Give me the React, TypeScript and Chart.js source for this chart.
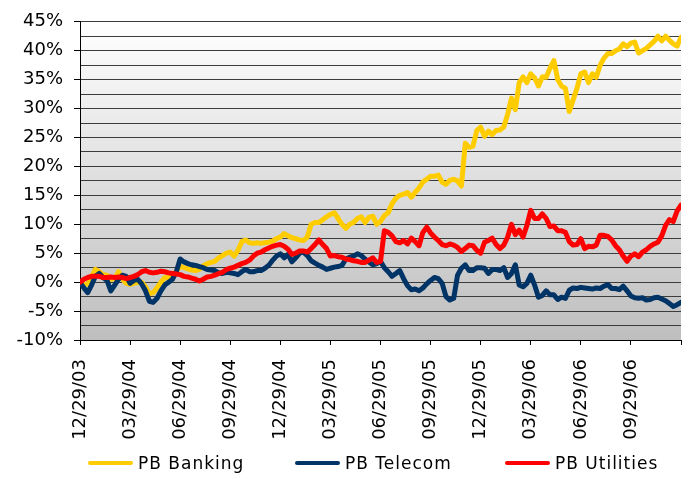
import React, { useEffect, useRef } from "react";
import { Chart, registerables } from "chart.js";

Chart.register(...registerables);

// Weekly index 0..156 from 12/29/03 to 12/29/06, cumulative return in %
const QUARTER_LABELS = [
  "12/29/03", "03/29/04", "06/29/04", "09/29/04", "12/29/04", "03/29/05",
  "06/29/05", "09/29/05", "12/29/05", "03/29/06", "06/29/06", "09/29/06",
];

const SERIES_NAMES = ["PB Banking", "PB Telecom", "PB Utilities"];

const BANKING = [
  0, -0.5, -0.3, 1.0, 2.2, 1.8, 1.3, 1.2, 0.5, 0.6,
  1.8, 0.5, -0.2, -0.4, -0.2, 0.0, 0.0, -0.8, -2.0, -1.8,
  -1.0, 0.0, 0.8, 0.7, 1.2, 1.8, 2.8, 2.5, 2.3, 2.1,
  2.0, 2.2, 2.8, 3.2, 3.4, 3.6, 4.2, 4.6, 5.0, 5.2,
  4.5, 5.5, 7.0, 7.3, 6.8, 6.7, 6.8, 6.7, 6.8, 6.9,
  7.1, 7.5, 7.8, 8.4, 8.0, 7.7, 7.5, 7.3, 7.2, 7.8,
  10.0, 10.3, 10.3, 10.8, 11.3, 11.7, 12.0, 11.0, 10.0, 9.3,
  10.0, 10.3, 11.0, 11.3, 10.3, 11.2, 11.4, 10.0, 10.5, 11.5,
  12.0, 13.6, 14.5, 15.0, 15.2, 15.5, 14.7, 15.5, 16.3, 17.3,
  17.8, 18.3, 18.3, 18.5, 17.3, 16.9, 17.6, 17.8, 17.5, 16.6,
  24.0, 23.3, 23.5, 26.2, 26.8, 25.2, 26.1, 25.5, 26.2, 26.3,
  26.8, 29.0, 31.8, 29.8, 34.5, 35.5, 34.5, 36.0, 35.3, 33.9,
  35.5, 35.4, 37.0, 38.3, 35.0, 33.9, 33.5, 29.5, 31.5, 33.5,
  36.0, 36.3, 34.5, 36.0, 35.4, 37.5, 38.7, 39.5, 39.5, 40.0,
  40.3, 41.2, 40.7, 41.3, 41.5, 39.6, 40.0, 40.4, 41.0, 41.6,
  42.5, 41.7, 42.5, 41.8, 41.2, 40.8, 42.3,
];

const TELECOM = [
  0, -1.0, -1.8, -0.5, 1.0, 1.5, 0.8, 0.3, -1.5, -0.5,
  0.5, 1.2, 1.0, -0.2, 0.3, 0.5, -0.3, -1.5, -3.3, -3.5,
  -2.8, -1.5, -0.5, 0.0, 0.5, 1.8, 4.0, 3.5, 3.2, 3.0,
  2.9, 2.7, 2.5, 2.2, 2.1, 2.0, 1.6, 1.5, 1.7, 1.6,
  1.5, 1.3, 1.8, 2.2, 1.8, 1.8, 2.0, 2.0, 2.4, 2.9,
  3.8, 4.5, 4.9, 4.2, 4.8, 3.5, 4.2, 5.0, 5.2, 4.6,
  3.7, 3.3, 2.9, 2.6, 2.2, 2.4, 2.6, 2.7, 2.9, 4.0,
  4.3, 4.5, 4.9, 4.6, 4.0, 3.5, 3.0, 3.2, 3.6, 2.5,
  1.8, 1.0, 1.5, 2.0, 0.6, -0.6, -1.3, -1.2, -1.5, -1.0,
  -0.3, 0.3, 0.8, 0.6, -0.2, -2.5, -3.1, -2.8, 1.2, 2.4,
  3.0, 2.0, 2.0, 2.5, 2.5, 2.4, 1.5, 2.2, 2.2, 2.0,
  2.5, 0.8, 1.5, 3.0, -0.5, -0.8, -0.2, 1.2, -0.5, -2.6,
  -2.3, -1.5, -2.2, -2.2, -3.0, -2.6, -2.8, -1.4, -1.0, -1.1,
  -0.9, -1.0, -1.1, -1.2, -1.0, -1.1, -0.7, -0.4, -1.1, -1.1,
  -1.3, -0.7, -1.5, -2.4, -2.7, -2.8, -2.7, -3.1, -3.0, -2.7,
  -2.6, -2.9, -3.2, -3.7, -4.2, -3.9, -3.5,
];

const UTILITIES = [
  0, 0.5, 0.8, 1.0, 1.0, 1.0, 0.8, 0.8, 0.9, 0.8,
  0.9, 0.8, 0.6, 0.8, 1.0, 1.3, 1.8, 2.0, 1.7, 1.6,
  1.7, 1.9, 1.8, 1.6, 1.5, 1.4, 1.3, 1.0, 0.9, 0.7,
  0.5, 0.2, 0.5, 0.9, 1.0, 1.2, 1.5, 1.7, 2.2, 2.4,
  2.6, 2.9, 3.2, 3.4, 3.8, 4.5, 5.0, 5.2, 5.6, 5.9,
  6.2, 6.4, 6.5, 6.2, 5.7, 4.8, 5.0, 5.4, 5.4, 5.2,
  5.8, 6.5, 7.3, 6.5, 5.8, 4.5, 4.6, 4.4, 4.3, 4.0,
  3.9, 3.7, 3.6, 3.4, 3.4, 3.8, 4.2, 3.4, 3.6, 8.9,
  8.6, 8.0, 7.0, 6.8, 7.2, 6.6, 7.6, 7.0, 6.3, 8.6,
  9.5, 8.5, 7.8, 7.2, 6.5, 6.3, 6.6, 6.4, 6.0, 5.3,
  5.8, 6.4, 6.3, 5.5, 5.0, 6.9, 7.2, 7.6, 6.5, 5.8,
  6.4, 7.8, 10.0, 8.2, 9.0, 7.8, 9.8, 12.4, 11.0, 11.0,
  11.8, 11.0, 9.6, 9.7, 8.9, 8.9, 8.6, 7.0, 6.4, 6.5,
  7.5, 5.8, 6.2, 6.1, 6.4, 8.1, 8.1, 7.9, 7.3, 6.3,
  5.6, 4.5, 3.6, 4.5, 4.9, 4.4, 5.2, 5.6, 6.2, 6.6,
  6.9, 8.0, 9.8, 10.8, 10.5, 12.3, 13.3,
];

const COLORS = ["#FFCC00", "#003366", "#FF0000"];
const FONT = "'DejaVu Sans', Verdana, sans-serif";

const bgPlugin = {
  id: "plotBg",
  beforeDraw(chart: any) {
    const { ctx, chartArea } = chart;
    if (!chartArea) return;
    const g = ctx.createLinearGradient(0, chartArea.top, 0, chartArea.bottom);
    g.addColorStop(0, "#ffffff");
    g.addColorStop(1, "#bebebe");
    ctx.save();
    ctx.fillStyle = g;
    ctx.fillRect(chartArea.left, chartArea.top, chartArea.right - chartArea.left, chartArea.bottom - chartArea.top);
    ctx.restore();
  },
};

const isMajor = (v: number) => Math.abs(v / 5 - Math.round(v / 5)) < 1e-6;

export default function App() {
  const canvasRef = useRef<HTMLCanvasElement | null>(null);

  useEffect(() => {
    if (!canvasRef.current) return;
    const toPts = (arr: number[]) => arr.map((y, i) => ({ x: i, y }));
    const seriesData = [BANKING, TELECOM, UTILITIES];
    const chart = new Chart(canvasRef.current, {
      type: "line",
      data: {
        datasets: seriesData.map((arr, k) => ({
          label: SERIES_NAMES[k],
          data: toPts(arr),
          borderColor: COLORS[k],
          backgroundColor: COLORS[k],
          borderWidth: 5,
          pointRadius: 0,
          tension: 0,
          borderJoinStyle: "round" as const,
          borderCapStyle: "round" as const,
          order: 2 - k,
        })),
      },
      options: {
        animation: false,
        responsive: false,
        devicePixelRatio: 1,
        layout: { padding: { top: 10, right: 0, left: 0, bottom: 0 } },
        plugins: { legend: { display: false }, tooltip: { enabled: false } },
        scales: {
          x: {
            type: "linear",
            min: 0,
            max: 156,
            afterFit: (s: any) => { s.height = 139; s.paddingRight = 10; },
            grid: { drawOnChartArea: false, drawTicks: true, tickLength: 5, tickColor: "#000" },
            border: { color: "#000", width: 1 },
            ticks: {
              stepSize: 13,
              autoSkip: false,
              maxRotation: 90,
              minRotation: 90,
              padding: 14,
              color: "#000",
              font: { family: FONT, size: 18 },
              callback: (v: any) => {
                const i = Math.round(Number(v) / 13);
                return QUARTER_LABELS[i] ?? "";
              },
            },
          },
          y: {
            min: -10,
            max: 45,
            afterFit: (s: any) => { s.width = 80; },
            grid: {
              color: "#3c3c3c",
              lineWidth: 1,
              drawTicks: true,
              tickLength: 6,
              tickColor: (c: any) => (c.tick && isMajor(c.tick.value) ? "#000" : "rgba(0,0,0,0)"),
            },
            border: { color: "#000", width: 1 },
            ticks: {
              stepSize: 2.5,
              autoSkip: false,
              padding: 11,
              color: "#000",
              font: { family: FONT, size: 18 },
              callback: (v: any) => (isMajor(Number(v)) ? `${Math.round(Number(v))}%` : ""),
            },
          },
        },
      },
      plugins: [bgPlugin],
    });
    return () => chart.destroy();
  }, []);

  const legendItems = [
    { lineLeft: 88, textLeft: 138 },
    { lineLeft: 295, textLeft: 345 },
    { lineLeft: 505, textLeft: 555 },
  ];

  return (
    <div style={{ position: "fixed", left: 0, top: 0, width: 691, height: 479, background: "#fff" }}>
      <canvas ref={canvasRef} width={691} height={479} style={{ width: 691, height: 479, display: "block" }} />
      {legendItems.map((it, k) => (
        <React.Fragment key={k}>
          <div
            style={{
              position: "absolute", left: it.lineLeft, top: 461, width: 45, height: 4,
              background: COLORS[k], borderRadius: 2,
            }}
          />
          <div
            style={{
              position: "absolute", left: it.textLeft, top: 453, fontFamily: FONT, fontSize: 17,
              letterSpacing: "1px", lineHeight: "20px", color: "#000", whiteSpace: "nowrap",
            }}
          >
            {SERIES_NAMES[k]}
          </div>
        </React.Fragment>
      ))}
    </div>
  );
}
